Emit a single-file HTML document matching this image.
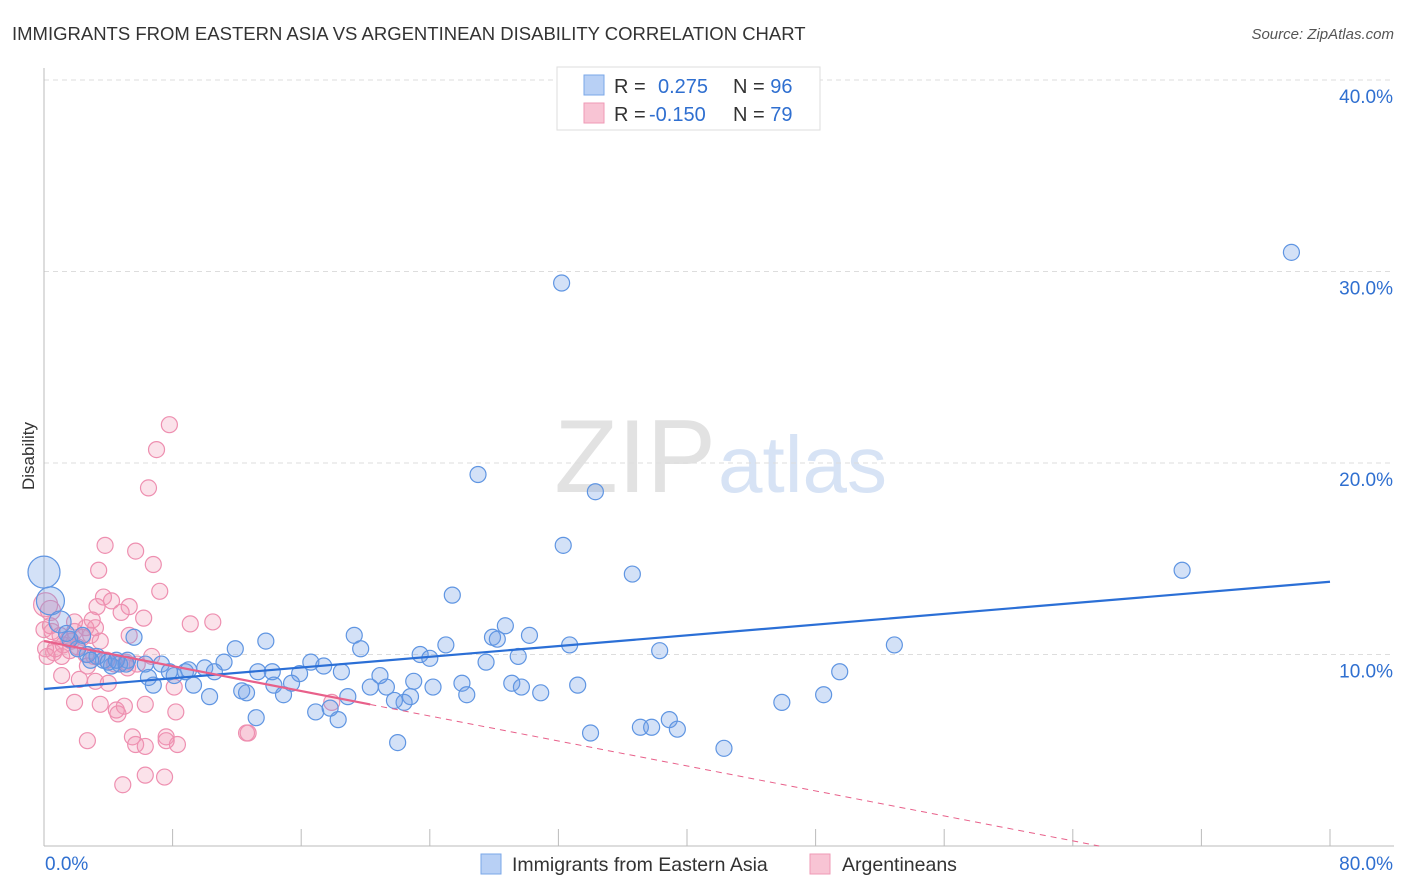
<!DOCTYPE html>
<html><head><meta charset="utf-8">
<style>
body{margin:0;background:#fff;font-family:"Liberation Sans",sans-serif;}
#wrap{position:relative;width:1406px;height:892px;overflow:hidden;}
svg text{font-family:"Liberation Sans",sans-serif;}
</style></head>
<body>
<div id="wrap">
<svg id="chart" width="1406" height="892" xmlns="http://www.w3.org/2000/svg">
<text x="12" y="40" font-size="18.5" fill="#333">IMMIGRANTS FROM EASTERN ASIA VS ARGENTINEAN DISABILITY CORRELATION CHART</text>
<text x="1394" y="39" font-size="15" fill="#555" font-style="italic" text-anchor="end">Source: ZipAtlas.com</text>
<text x="34" y="456" font-size="17" fill="#333" text-anchor="middle" transform="rotate(-90 34 456)">Disability</text>
<text x="716" y="492" font-size="104" fill="#e2e2e2" text-anchor="end" font-family="Liberation Serif">ZIP</text>
<text x="718" y="492" font-size="80" fill="#d7e3f5">atlas</text>
<g id="grid"></g><g id="axes"></g><g id="pink"></g><g id="blue"></g><g id="lines"></g>
<g>
<rect x="557" y="67" width="263" height="63" fill="#fff" stroke="#ddd"/>
<rect x="584" y="75" width="20" height="20" fill="#b8d0f5" stroke="#7aa7e8"/>
<rect x="584" y="103" width="20" height="20" fill="#f8c4d4" stroke="#ef9ab6"/>
<text x="614" y="93" font-size="20" fill="#333">R = <tspan fill="#2f6fd0" x="658">0.275</tspan><tspan fill="#333" x="733">N = </tspan><tspan fill="#2f6fd0">96</tspan></text>
<text x="614" y="121" font-size="20" fill="#333">R = <tspan fill="#2f6fd0" x="649">-0.150</tspan><tspan fill="#333" x="733">N = </tspan><tspan fill="#2f6fd0">79</tspan></text>
</g>
<g>
<rect x="481" y="854" width="20" height="20" fill="#b8d0f5" stroke="#7aa7e8"/>
<text x="512" y="871" font-size="19.5" fill="#333">Immigrants from Eastern Asia</text>
<rect x="810" y="854" width="20" height="20" fill="#f8c4d4" stroke="#ef9ab6"/>
<text x="842" y="871" font-size="19.5" fill="#333">Argentineans</text>
</g>
</svg>
</div>
<script>
const xTicks=[0,8,16,24,32,40,48,56,64,72,80];
const yTicks=[10,20,30,40];
const blueX=[77.6,32.2,27.0,34.3,32.3,36.6,70.8,25.4,0,0.4,1.0,28.7,30.2,27.9,32.7,28.2,19.3,25.0,13.8,11.9,52.9,38.3,19.7,23.4,24.0,29.5,27.5,5.6,16.6,17.4,49.5,18.5,15.9,20.9,20.3,21.3,23.0,24.2,26.0,26.3,29.1,29.7,30.9,33.2,22.8,22.4,21.8,18.9,16.9,18.3,13.2,12.3,12.6,14.3,14.9,15.4,10.3,9.3,6.8,6.5,14.2,13.3,11.2,10.0,10.6,8.8,8.1,7.3,6.3,5.2,4.7,4.2,3.7,3.3,2.7,2.1,1.6,1.4,2.4,45.9,48.5,34.0,37.1,37.8,38.9,39.4,42.3,22.0,17.8,5.1,2.9,4.0,4.5,7.8,9.0];
const blueY=[31.0,29.4,19.4,18.5,15.7,14.2,14.4,13.1,14.3,12.8,11.7,11.5,11.0,10.9,10.5,10.8,11.0,10.5,10.7,10.3,10.5,10.2,10.3,10.0,9.8,9.9,9.6,10.9,9.6,9.4,9.1,9.1,9.0,8.9,8.3,8.3,8.6,8.3,8.5,7.9,8.5,8.3,8.0,8.4,7.8,7.5,7.6,7.8,7.0,6.6,6.7,8.1,8.0,8.4,7.9,8.5,7.8,8.4,8.4,8.8,9.1,9.1,9.6,9.3,9.1,9.1,8.9,9.5,9.5,9.7,9.5,9.4,9.7,9.9,10.0,10.3,10.8,11.1,11.0,7.5,7.9,5.9,6.2,6.2,6.6,6.1,5.1,5.4,7.2,9.5,9.7,9.6,9.7,9.1,9.2];
const blueR=[8,8,8,8,8,8,8,8,16,14,11];
const pinkX=[7.8,7.0,6.5,3.8,5.7,6.8,3.4,7.2,0.1,0.4,3.7,4.2,5.3,3.3,4.8,6.2,9.1,10.5,0,0.5,1.0,1.5,1.9,2.4,2.9,3.2,3.5,0.1,0.6,1.1,1.6,2.1,2.6,3.1,3.9,4.4,5.1,6.7,5.8,1.1,2.2,3.2,4.0,8.1,1.9,3.5,5.0,6.3,8.2,4.6,4.5,2.7,5.5,7.6,5.7,6.3,8.3,7.6,12.7,12.6,17.9,6.3,7.5,4.9,0.7,1.2,1.7,0.2,0.4,2.6,3.0,5.3,5.2,2.7,1.9];
const pinkY=[22.0,20.7,18.7,15.7,15.4,14.7,14.4,13.3,12.6,12.3,13.0,12.8,12.5,12.5,12.2,11.9,11.6,11.7,11.3,11.2,11.0,10.8,11.2,10.9,11.0,11.4,10.7,10.3,10.1,9.9,10.2,10.4,10.0,9.9,9.7,9.5,9.6,9.9,9.5,8.9,8.7,8.6,8.5,8.3,7.5,7.4,7.3,7.4,7.0,6.9,7.1,5.5,5.7,5.7,5.3,5.2,5.3,5.5,5.9,5.9,7.5,3.7,3.6,3.2,10.3,10.5,10.7,9.9,11.5,11.4,11.8,11.0,9.3,9.4,11.7];
const pinkR=[8,8,8,8,8,8,8,8,12,10];
const blueFit=[8.2,13.8];
const pinkFit=[10.7,-0.163];
const NS="http://www.w3.org/2000/svg";
const X=v=>44+v/80*1286, Y=v=>846-v*19.15;
function mk(tag,attrs,parent){const e=document.createElementNS(NS,tag);for(const k in attrs)e.setAttribute(k,attrs[k]);document.getElementById(parent).appendChild(e);return e;}
yTicks.forEach(t=>{
  const l=mk('line',{x1:44,x2:1394,y1:Y(t),y2:Y(t),stroke:'#ddd','stroke-dasharray':'5,4'},'grid');
  
  
  const tx=mk('text',{x:1393,y:Y(t)+23,'font-size':19,fill:'#2f6fd0','text-anchor':'end'},'grid');
  tx.textContent=t.toFixed(1)+'%';
  
  
});
mk('line',{x1:44,x2:44,y1:68,y2:846,stroke:'#bbb'},'axes');
mk('line',{x1:44,x2:1394,y1:846,y2:846,stroke:'#bbb'},'axes');
xTicks.forEach(t=>{
  const l=mk('line',{x1:X(t),x2:X(t),y1:829,y2:846,stroke:'#bbb'},'axes');
  
  
});
[[0,'start',45],[80,'end',1393]].forEach(a=>{
  const tx=mk('text',{x:a[2],y:870,'font-size':19,fill:'#2f6fd0','text-anchor':a[1]},'axes');
  tx.textContent=a[0].toFixed(1)+'%';
  
  
});
pinkX.forEach((x,i)=>{
  const c=mk('circle',{cx:X(x),cy:Y(pinkY[i]),r:pinkR[i]||8,fill:'rgba(242,150,180,0.28)',stroke:'#ee8fb0','stroke-width':1.2},'pink');
  
  
});
blueX.forEach((x,i)=>{
  const c=mk('circle',{cx:X(x),cy:Y(blueY[i]),r:blueR[i]||8,fill:'rgba(110,155,230,0.3)',stroke:'#5f95e2','stroke-width':1.2},'blue');
  
  
});
const bl=mk('line',{x1:X(0),y1:Y(blueFit[0]),x2:X(80),y2:Y(blueFit[1]),stroke:'#2b6fd6','stroke-width':2.2},'lines');


const pf=v=>pinkFit[0]+pinkFit[1]*v;
const pl=mk('line',{x1:X(0),y1:Y(pf(0)),x2:X(20.3),y2:Y(pf(20.3)),stroke:'#e8608a','stroke-width':2.2},'lines');


const xe=-pinkFit[0]/pinkFit[1];
const pd=mk('line',{x1:X(20.3),y1:Y(pf(20.3)),x2:X(xe),y2:Y(0),stroke:'#e8608a','stroke-width':1,'stroke-dasharray':'6,5'},'lines');


</script>
</body></html>
